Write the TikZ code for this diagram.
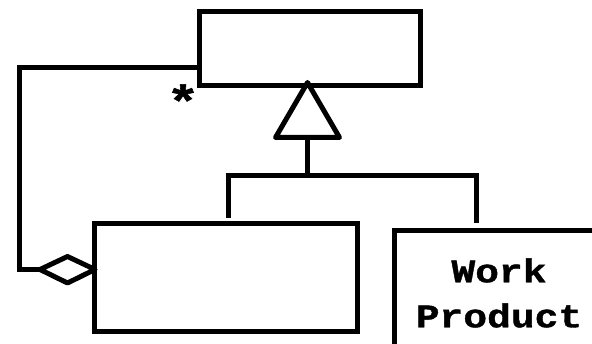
\documentclass[tikz,border=0pt]{standalone}
\usepackage{fontspec}
\newfontfamily\wpfont{Liberation Mono}[FakeStretch=1.2]
\newfontfamily\wpboldfont{Liberation Mono Bold}[FakeStretch=1.2, FakeBold=1.2]
\begin{document}
\begin{tikzpicture}[x=1pt, y=-1pt, line width=5pt,
  box/.style={draw, rectangle, inner sep=0pt, outer sep=0pt},
  lbl/.style={font=\wpboldfont\fontsize{33}{45}\selectfont}]
\useasboundingbox (0,0) rectangle (592,344);
\clip (0,0) rectangle (592,344);
\node[box, minimum width=220.5pt, minimum height=73.8pt] (phase) at (309.75,48.6) {};
\node[box, minimum width=262.5pt, minimum height=108pt] (comp) at (225.75,277.5) {};
\node[box, lbl, align=center, minimum width=209pt, minimum height=125pt] (wp) at (499,293) {Work\\Product};
% generalization
\coordinate (tip) at (307.5,82.5);
\coordinate (base) at (307.5,137.5);
\coordinate (hub) at (307.5,176);
\coordinate (dl) at (228,218);
\coordinate (dr) at (476.5,222.7);
\draw[fill=white, line join=round] (tip) -- (275.5,137.5) -- (339.5,137.5) -- cycle;
\draw (base) -- (hub);
\draw (dl) |- (hub) -| (dr);
% aggregation
\coordinate (start) at (phase.west |- 0,68);
\coordinate (dtail) at (40,269.5);
\draw (start) -| (19,269.5) -- (dtail);
\draw[fill=white, line join=round] (dtail) -- (67.5,256.5) -- (95,269.5) -- (67.5,283) -- cycle;
\node[font=\wpboldfont\fontsize{46}{46}\selectfont, inner sep=0pt] (many) at (183,101) {*};
\end{tikzpicture}
\end{document}
